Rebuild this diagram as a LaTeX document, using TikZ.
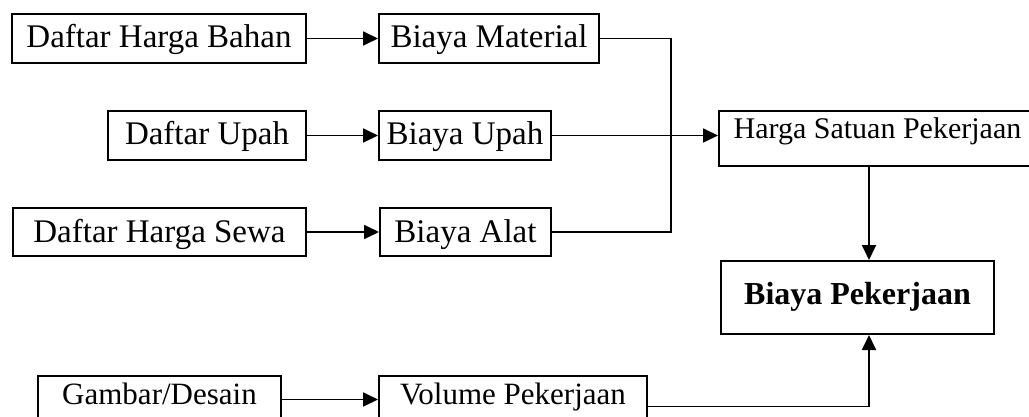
\documentclass[tikz,border=0pt]{standalone}
\usepackage{fontspec}
\setmainfont{Liberation Serif}
\usetikzlibrary{arrows.meta}
\begin{document}
\begin{tikzpicture}[x=1pt,y=-1pt,
  box/.style={draw,line width=2pt,inner sep=0pt,anchor=north west,
    font=\fontsize{33}{36}\selectfont,text height=34pt,text depth=15pt},
  conn/.style={line width=1.8pt},
  arr/.style={conn,-{Triangle[length=15pt,width=14pt]}}]
\useasboundingbox (0,0) rectangle (1029,417);
\node[box,minimum width=294pt] (dhb) at (11,13) {Daftar Harga Bahan};
\node[box,minimum width=220pt] (bm) at (378,13) {Biaya Material};
\node[box,minimum width=198pt] (du) at (107,110) {Daftar Upah};
\node[box,minimum width=172pt] (bu) at (378,110) {Biaya Upah};
\node[box,minimum width=293pt,text depth=14pt] (dhs) at (12,207) {Daftar Harga Sewa};
\node[box,minimum width=171pt,text depth=14pt] (ba) at (379,207) {Biaya Alat};
\node[box,minimum width=317pt,font=\fontsize{30}{33}\selectfont,text height=28pt,text depth=27pt] (hsp) at (718,110) {Harga Satuan Pekerjaan};
\node[box,minimum width=273pt,font=\fontsize{32}{36}\selectfont\bfseries,text height=43pt,text depth=30pt] (bp) at (720,260) {Biaya Pekerjaan};
\node[box,minimum width=243pt,font=\fontsize{31}{34}\selectfont,text height=28pt,text depth=33pt] (gd) at (37,375) {Gambar/Desain};
\node[box,minimum width=268pt,font=\fontsize{31}{34}\selectfont,text height=28pt,text depth=33pt] (vp) at (378,375) {Volume Pekerjaan};
\coordinate (jx) at (671,0);
\coordinate (cx) at (869,0);
\draw[arr] (dhb.east) -- (bm.west);
\draw[arr] (du.east) -- (bu.west);
\draw[arr] (dhs.east) -- (ba.west);
\draw[conn] (bm.east) -- (bm.east -| jx) -- (ba.east -| jx) -- (ba.east);
\draw[arr] (bu.east) -- (bu.east -| hsp.west);
\draw[arr] (hsp.south -| cx) -- (bp.north -| cx);
\draw[arr] ([yshift=7pt]gd.east) -- ([yshift=7pt]vp.west);
\draw[arr] (vp.east) -- (vp.east -| cx) -- (bp.south -| cx);
\end{tikzpicture}
\end{document}
